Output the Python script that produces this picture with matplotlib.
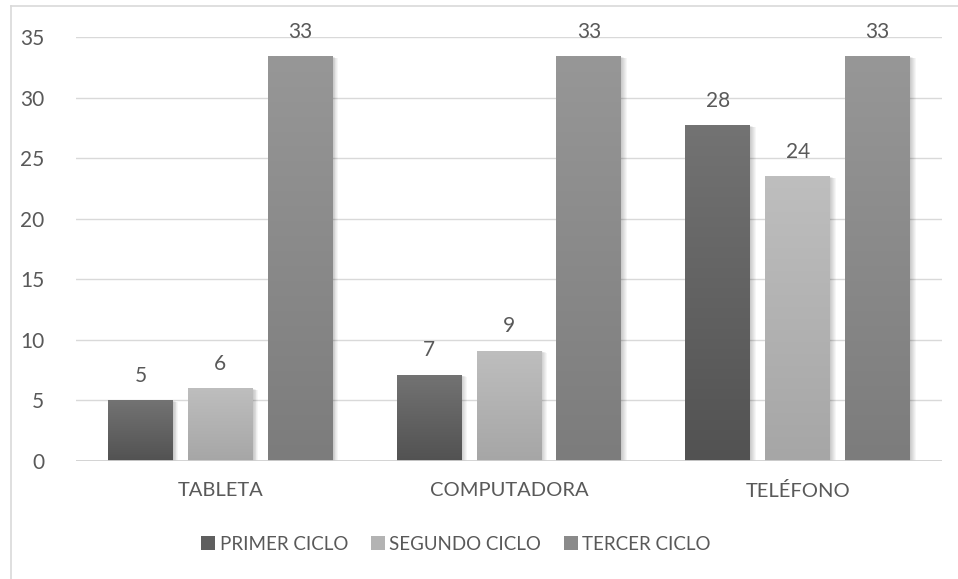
import numpy as np
import matplotlib
matplotlib.use("Agg")
import matplotlib.pyplot as plt
from matplotlib.patches import Rectangle
from matplotlib.lines import Line2D
import matplotlib.transforms as mtransforms

plt.rcParams['font.family'] = ['Lato', 'DejaVu Sans']

categories = ["TABLETA", "COMPUTADORA", "TELÉFONO"]
series_names = ["PRIMER CICLO", "SEGUNDO CICLO", "TERCER CICLO"]
primer = [5.0, 7.1, 27.7]
segundo = [6.0, 9.1, 23.5]
tercer = [33.4, 33.4, 33.4]
y_ticks = [0, 5, 10, 15, 20, 25, 30, 35]

# gradient colours per series: (top, bottom)
grad_colors = [("#737373", "#525252"), ("#bebebe", "#a6a6a6"), ("#979797", "#7c7c7c")]
legend_colors = ["#5f5f5f", "#b3b3b3", "#8a8a8a"]
text_color = "#595959"

W, H = 958, 579
fig = plt.figure(figsize=(W / 100, H / 100), dpi=100)

# outer chart frame (top and left edges visible)
fig.add_artist(Line2D([11 / W, 1.0], [1 - 6 / H, 1 - 6 / H], color="#d9d9d9", lw=1.2,
                      transform=fig.transFigure))
fig.add_artist(Line2D([11 / W, 11 / W], [0.0, 1 - 6 / H], color="#d9d9d9", lw=1.2,
                      transform=fig.transFigure))

ax = fig.add_axes([76 / W, (H - 461) / H, (942 - 76) / W, (461 - 37) / H])
ax.set_xlim(-0.5, 2.5)
ax.set_ylim(0, 35)
for s in ax.spines.values():
    s.set_visible(False)
ax.set_yticks(y_ticks)
ax.yaxis.grid(True, color="#d9d9d9", lw=1.0)
ax.set_axisbelow(True)
ax.tick_params(axis="y", length=0, pad=23, labelsize=15, labelcolor=text_color)
ax.tick_params(axis="x", length=0, pad=15, labelsize=14.5, labelcolor=text_color)
ax.set_xticks(range(len(categories)))
ax.set_xticklabels(categories)
ax.axhline(0, color="#d0d0d0", lw=2.0, zorder=5)

bar_w = 0.225
offsets = [-0.277, 0.0, 0.277]
x = np.arange(len(categories))
series = [primer, segundo, tercer]

grad = np.linspace(0, 1, 256).reshape(-1, 1)
for si, vals in enumerate(series):
    top, bot = grad_colors[si]
    cmap = matplotlib.colors.LinearSegmentedColormap.from_list(f"g{si}", [bot, top])
    bars = ax.bar(x + offsets[si], vals, bar_w, color="none", zorder=3)
    for rect, v in zip(bars, vals):
        x0 = rect.get_x()
        # soft shadow to the right of each bar
        for k in range(1, 7):
            off = mtransforms.offset_copy(ax.transData, fig=fig, x=k * 0.9, y=-k * 0.3, units="dots")
            sh = Rectangle((x0, 0), bar_w, v, facecolor="black", alpha=0.035,
                           edgecolor="none", transform=off, zorder=2)
            ax.add_patch(sh)
        im = ax.imshow(grad, extent=[x0, x0 + bar_w, 0, v], origin="lower", cmap=cmap,
                       aspect="auto", zorder=3, interpolation="bilinear")
        clip = Rectangle((x0, 0), bar_w, v, transform=ax.transData)
        im.set_clip_path(clip)
        ax.text(x0 + bar_w / 2, v + 1.2, f"{v:.0f}", ha="center", va="bottom",
                fontsize=15, color=text_color, zorder=6)

ax.set_xlim(-0.5, 2.5)
ax.set_ylim(0, 35)

handles = [Rectangle((0, 0), 1, 1, facecolor=c, edgecolor="none") for c in legend_colors]
fig.legend(handles, series_names, loc="center", bbox_to_anchor=(456 / W, 1 - 544 / H),
           ncol=3, frameon=False, fontsize=13.5, labelcolor=text_color,
           handlelength=0.75, handleheight=0.75, handletextpad=0.25, columnspacing=1.2)

fig.savefig("out.png", dpi=100, facecolor="white")
